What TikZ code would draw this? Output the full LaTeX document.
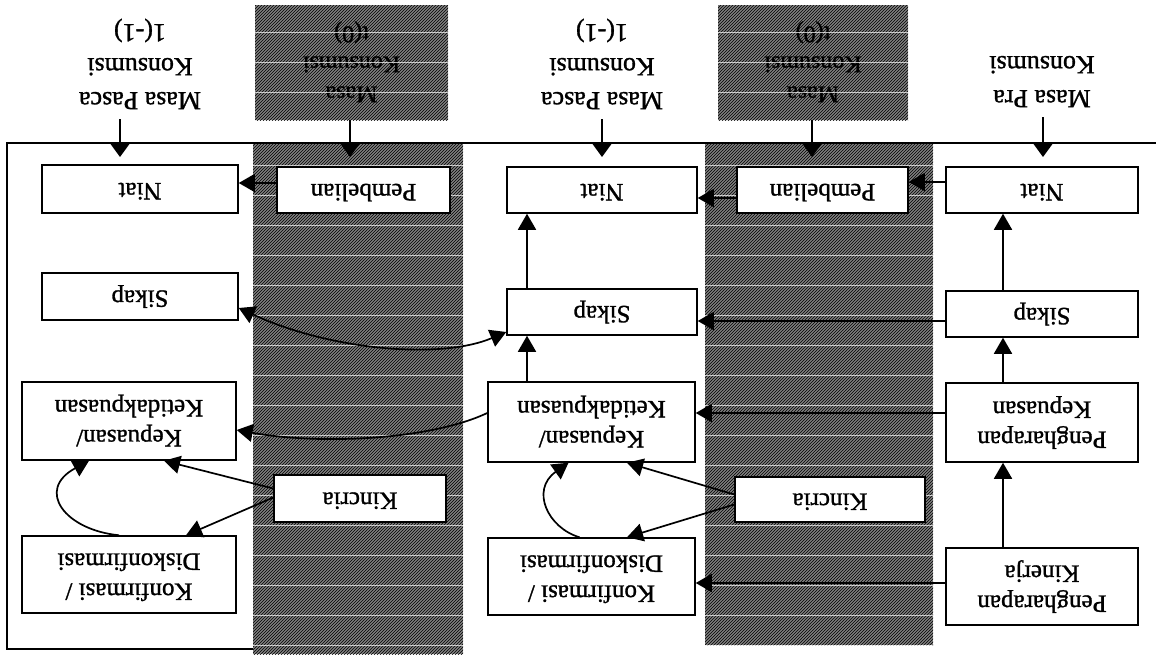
\documentclass[tikz,border=0pt]{standalone}
\usepackage{fontspec}
\setmainfont{Liberation Serif}
\newfontfamily\scanfont{Liberation Serif}[FakeBold=1.2]
\usetikzlibrary{arrows.meta,patterns,calc}
\newcommand{\RT}[1]{\rotatebox[origin=c]{180}{\begin{tabular}{@{}c@{}}#1\end{tabular}}}
\begin{document}
\begin{tikzpicture}[x=1pt,y=-1pt,
  box/.style={draw, fill=white, line width=1.5pt, inner sep=0pt, font=\scanfont\fontsize{25}{30}\selectfont},
  toplabel/.style={inner sep=0pt, font=\scanfont\fontsize{26}{34}\selectfont},
  shadelabel/.style={inner sep=0pt, preaction={fill=black!50}, pattern=north east lines, pattern color=black, font=\scanfont\fontsize{24}{30}\selectfont, text=black},
  band/.style={fill=black!50},
  bandpat/.style={pattern=north east lines, pattern color=black},
  streak/.style={white, line width=1pt, opacity=0.7},
  frameline/.style={line width=1.5pt},
  arr/.style={line width=1.7pt, -{Triangle[width=18pt,length=16pt]}},
  toparr/.style={line width=1.7pt, -{Triangle[width=20pt,length=14pt]}},
  dblarr/.style={line width=1.7pt, {Triangle[width=18pt,length=16pt]}-{Triangle[width=18pt,length=16pt]}}
]
\useasboundingbox (0,0) rectangle (1156,654);
% shaded bands
\fill[band] (253,143) rectangle (463,654);
\fill[bandpat] (253,143) rectangle (463,654);
\fill[band] (705,143) rectangle (933,645);
\fill[bandpat] (705,143) rectangle (933,645);
\foreach \yy in {165,195,...,645} {
  \draw[streak] (253,\yy) -- (463,\yy);
  \draw[streak] (705,\yy) -- (933,\yy);
}
% frame
\draw[frameline] (1156,143) -- (7,143) -- (7,649) -- (253,649);
% top labels
\node[toplabel] (lblE) at (140,65) {\RT{Masa Pasca\\Konsumsi\\1(-1)}};
\node[shadelabel, minimum width=193, minimum height=115] (lblD) at (351.5,62.5) {\RT{Masa\\Konsumsi\\t(0)}};
\node[toplabel] (lblC) at (602,65) {\RT{Masa Pasca\\Konsumsi\\1(-1)}};
\node[shadelabel, minimum width=190, minimum height=115] (lblB) at (813,62.5) {\RT{Masa\\Konsumsi\\t(0)}};
\node[toplabel] (lblA) at (1042,80) {\RT{Masa Pra\\Konsumsi}};
\foreach \yy in {32,62,92} {
  \draw[streak] (255,\yy) -- (448,\yy);
  \draw[streak] (718,\yy) -- (908,\yy);
}
\coordinate (tE) at (120,157);
\coordinate (tD) at (350,157);
\coordinate (tC) at (602,157);
\coordinate (tB) at (812,157);
\coordinate (tA) at (1043,157);
\draw[toparr] ([yshift=-3pt]lblE.south -| tE) -- (tE);
\draw[toparr] (lblD.south -| tD) -- (tD);
\draw[toparr] ([yshift=-3pt]lblC.south -| tC) -- (tC);
\draw[toparr] (lblB.south -| tB) -- (tB);
\draw[toparr] ([yshift=-3pt]lblA.south -| tA) -- (tA);
% boxes: pra column
\node[box, minimum width=192, minimum height=46] (niatA) at (1042,190) {\RT{Niat}};
\node[box, minimum width=192, minimum height=46] (sikapA) at (1042,314) {\RT{Sikap}};
\node[box, minimum width=192, minimum height=79] (pkepA) at (1042,422.5) {\RT{Pengharapan\\Kepuasan}};
\node[box, minimum width=192, minimum height=77] (pkinA) at (1042,586.5) {\RT{Pengharapan\\Kinerja}};
% right band
\node[box, minimum width=171, minimum height=46] (pembB) at (822.5,190) {\RT{Pembelian}};
\node[box, minimum width=190, minimum height=45] (kinB) at (830,499.5) {\RT{Kincria}};
% middle column
\node[box, minimum width=190, minimum height=46] (niatC) at (602,190) {\RT{Niat}};
\node[box, minimum width=190, minimum height=46] (sikapC) at (602,312) {\RT{Sikap}};
\node[box, minimum width=207, minimum height=80] (kepC) at (591.5,422) {\RT{Kepuasan/\\Ketidakpuasan}};
\node[box, minimum width=207, minimum height=77] (konC) at (591.5,576.5) {\RT{Konfirmasi /\\Diskonfirmasi}};
% left band
\node[box, minimum width=173, minimum height=46] (pembD) at (363.5,190) {\RT{Pembelian}};
\node[box, minimum width=172, minimum height=47] (kinD) at (360,498.5) {\RT{Kincria}};
% left column
\node[box, minimum width=196, minimum height=48] (niatE) at (140,189) {\RT{Niat}};
\node[box, minimum width=196, minimum height=47] (sikapE) at (140,296.5) {\RT{Sikap}};
\node[box, minimum width=214, minimum height=78] (kepE) at (129,421) {\RT{Kepuasan/\\Ketidakpuasan}};
\node[box, minimum width=214, minimum height=77] (konE) at (129,574.5) {\RT{Konfirmasi /\\Diskonfirmasi}};
% horizontal arrows
\draw[arr] ([yshift=8pt]niatA.west) -- ([yshift=8pt]niatA.west -| pembB.east);
\draw[arr] ([yshift=-8pt]pembB.west) -- ([yshift=-8pt]pembB.west -| niatC.east);
\draw[arr] ([yshift=-7pt]sikapA.west) -- ([yshift=-7pt]sikapA.west -| sikapC.east);
\draw[arr] ([yshift=9.5pt]pkepA.west) -- ([yshift=9.5pt]pkepA.west -| kepC.east);
\draw[arr] ([yshift=3.5pt]pkinA.west) -- ([yshift=3.5pt]pkinA.west -| konC.east);
\draw[arr] ([yshift=7pt]pembD.west) -- ([yshift=7pt]pembD.west -| niatE.east);
% vertical arrows, pra column
\draw[arr] ([xshift=-39pt]pkinA.north) -- ([xshift=-39pt]pkinA.north |- pkepA.south);
\draw[arr] ([xshift=-39pt]pkepA.north) -- ([xshift=-39pt]pkepA.north |- sikapA.south);
\draw[arr] ([xshift=-39pt]sikapA.north) -- ([xshift=-39pt]sikapA.north |- niatA.south);
% vertical arrows, middle column
\draw[arr] ([xshift=-75pt]sikapC.north) -- ([xshift=-75pt]sikapC.north |- niatC.south);
\draw[arr] ([xshift=-64.5pt]kepC.north) -- ([xshift=-64.5pt]kepC.north |- sikapC.south);
% Kincria arrows
\draw[arr] ([yshift=5pt]kinB.west) -- ([xshift=35.5pt]kepC.south);
\draw[arr] ([yshift=-5pt]kinB.west) -- ([xshift=35.5pt]konC.north);
\draw[arr] ([yshift=10pt]kinD.west) -- ([xshift=35pt]kepE.south);
\draw[arr] ([yshift=1pt]kinD.west) -- ([xshift=57pt]konE.north);
% curved arrows
\draw[arr] ([xshift=-12pt]konC.north) .. controls (548,528) and (530,490) .. ([xshift=-23pt]kepC.south);
\draw[arr] ([xshift=-10pt]konE.north) .. controls (65,530) and (35,490) .. ([xshift=-40pt]kepE.south);
\draw[dblarr] ([yshift=-20pt]sikapC.west) .. controls (440,360) and (330,350) .. ([yshift=-11.5pt]sikapE.east);
\draw[arr] ([yshift=9pt]kepC.west) .. controls (430,440) and (320,445) .. ([yshift=-9pt]kepE.east);
\end{tikzpicture}
\end{document}
